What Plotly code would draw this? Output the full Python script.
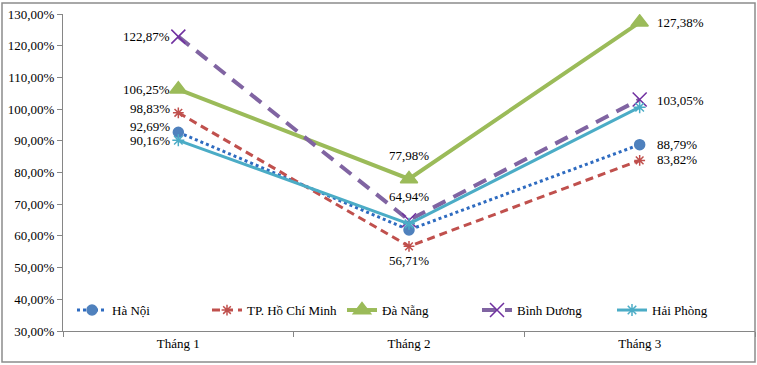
import plotly.graph_objects as go

categories = ["Tháng 1", "Tháng 2", "Tháng 3"]
series_names = ["Hà Nội", "TP. Hồ Chí Minh", "Đà Nẵng", "Bình Dương", "Hải Phòng"]
ha_noi = [92.69, 61.9, 88.79]
tp_hcm = [98.83, 56.71, 83.82]
da_nang = [106.25, 77.98, 127.38]
binh_duong = [122.87, 64.94, 103.05]
hai_phong = [90.16, 63.8, 100.6]
series_values = [ha_noi, tp_hcm, da_nang, binh_duong, hai_phong]
y_ticks = [30, 40, 50, 60, 70, 80, 90, 100, 110, 120, 130]
y_tick_labels = [f"{v:.2f}".replace(".", ",") + "%" for v in y_ticks]

# which points carry a data label: (series index, point index, side, yshift)
labels = [
    (0, 0, "left", 6), (0, 2, "right", 0),
    (1, 0, "left", 4), (1, 1, "below", 0), (1, 2, "right", 1),
    (2, 0, "left", 0), (2, 1, "above", 0), (2, 2, "right", 0),
    (3, 0, "left", 0), (3, 1, "above", 0), (3, 2, "right", -1),
    (4, 0, "left", 0),
]

styles = [
    dict(color="#2E6BC0", width=3, dash="dot", symbol="circle", msize=10, mcolor="#4F81BD"),
    dict(color="#C0504D", width=3, dash="8px,5px", symbol="asterisk-open", msize=9, mcolor="#C0504D"),
    dict(color="#9BBB59", width=4, dash="solid", symbol="triangle-up", msize=15, mcolor="#9BBB59"),
    dict(color="#8064A2", width=4, dash="14px,9px", symbol="x-thin-open", msize=14, mcolor="#7030A0"),
    dict(color="#4BACC6", width=3, dash="solid", symbol="asterisk-open", msize=10, mcolor="#4BACC6"),
]

font_family = "'Times New Roman', 'Liberation Serif', serif"

fig = go.Figure()
for name, vals, st in zip(series_names, series_values, styles):
    fig.add_trace(go.Scatter(
        x=categories, y=vals, name=name, mode="lines+markers",
        line=dict(color=st["color"], width=st["width"], dash=st["dash"]),
        marker=dict(symbol=st["symbol"], size=st["msize"], color=st["mcolor"],
                    line=dict(color=st["mcolor"], width=1.5)),
    ))

for si, pi, side, ys in labels:
    v = series_values[si][pi]
    txt = f"{v:.2f}".replace(".", ",") + "%"
    ann = dict(x=categories[pi], y=v, text=txt, showarrow=False,
               font=dict(family=font_family, size=13, color="black"))
    if side == "left":
        ann.update(xanchor="right", xshift=-6, yshift=ys)
    elif side == "right":
        ann.update(xanchor="left", xshift=15, yshift=ys)
    elif side == "above":
        ann.update(yanchor="bottom", yshift=14)
    else:
        ann.update(yanchor="top", yshift=-5)
    fig.add_annotation(**ann)

W, H = 757, 365
ml, mr, mt, mb = 63, 2, 14, 34
pw, ph = W - ml - mr, H - mt - mb
fig.add_shape(type="rect", xref="paper", yref="paper",
              x0=(2 - ml) / pw, x1=1.0, y0=-(362 - (H - mb)) / ph, y1=1 + (mt - 3) / ph,
              line=dict(color="#8C8C8C", width=1.5), fillcolor="rgba(0,0,0,0)", layer="below")

fig.update_layout(
    width=W, height=H, margin=dict(l=ml, r=mr, t=mt, b=mb),
    paper_bgcolor="white", plot_bgcolor="white",
    font=dict(family=font_family, size=13, color="black"),
    showlegend=True,
    legend=dict(orientation="h", x=0.013, y=0.066, xanchor="left", yanchor="middle",
                font=dict(family=font_family, size=13), bgcolor="rgba(0,0,0,0)",
                itemwidth=30, entrywidth=90, tracegroupgap=0),
    xaxis=dict(type="category", range=[-0.5, 2.5], showline=True, linecolor="#868686",
               linewidth=1, ticks="outside", tickson="boundaries", ticklen=5,
               tickcolor="#868686", showgrid=False, zeroline=False,
               tickfont=dict(family=font_family, size=13)),
    yaxis=dict(range=[30, 130], tickvals=y_ticks, ticktext=y_tick_labels,
               showline=True, linecolor="#868686", linewidth=1, ticks="outside",
               ticklen=5, tickcolor="#868686", showgrid=False, zeroline=False,
               tickfont=dict(family=font_family, size=13)),
)

fig.write_html("out.html", config={"displayModeBar": False},
               post_script="document.body.style.margin='0';")
